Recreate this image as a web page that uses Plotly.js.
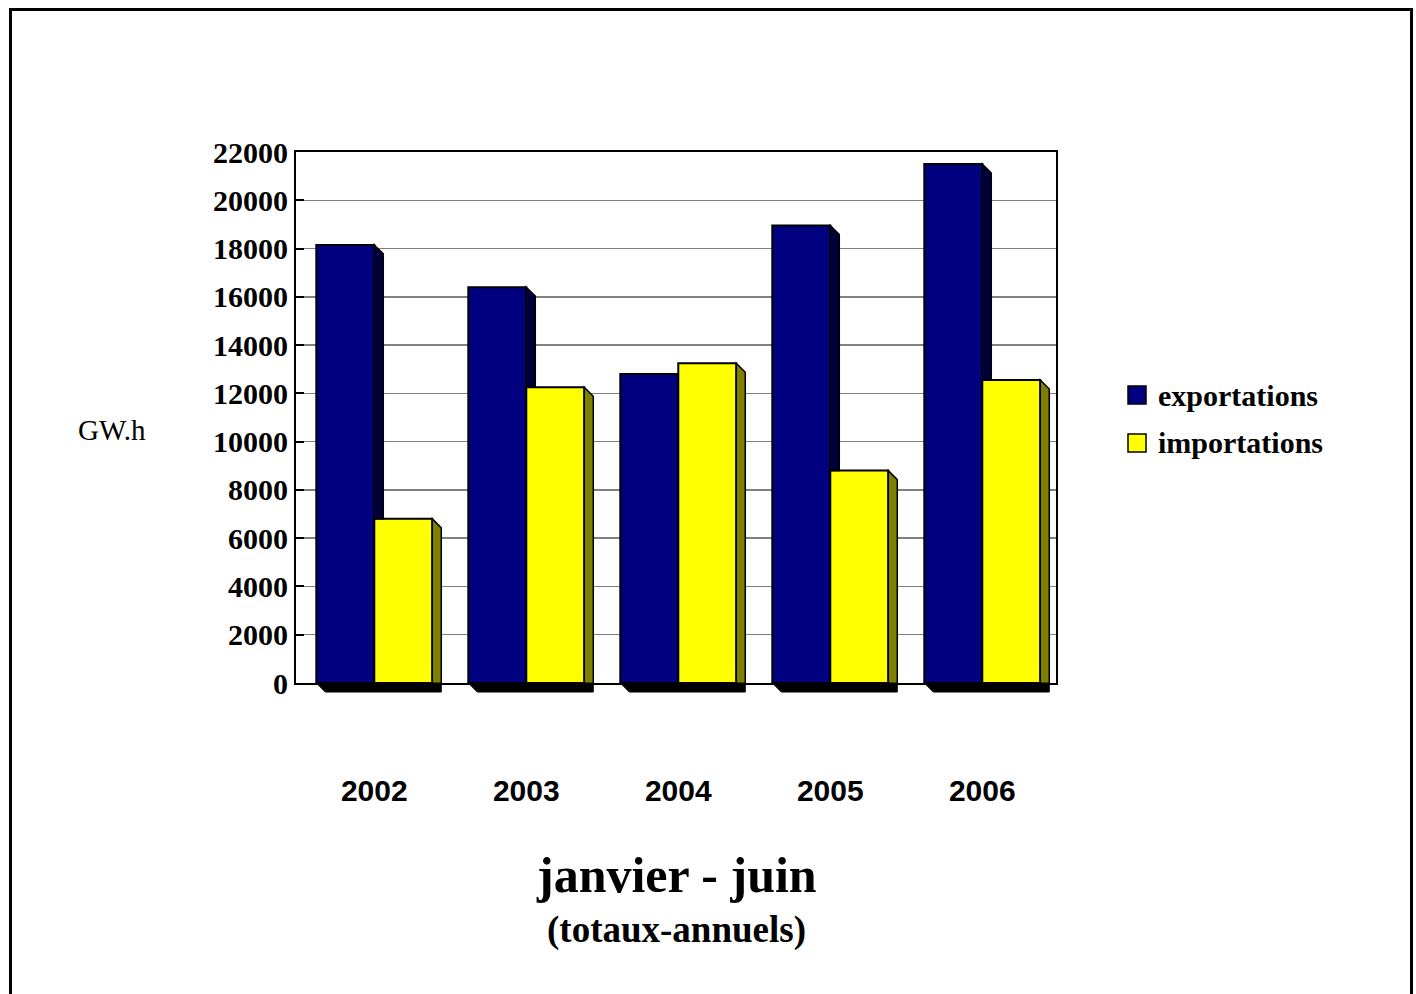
<!DOCTYPE html>
<html>
<head>
<meta charset="utf-8">
<script src="https://cdn.plot.ly/plotly-3.0.1.min.js"></script>
<style>
  html, body { margin: 0; padding: 0; width: 1416px; height: 994px; overflow: hidden; background: #fff; }
  #frame { position: absolute; left: 9px; top: 8px; width: 1404px; height: 1010px; border: 3px solid #000; box-sizing: border-box; pointer-events: none; z-index: 5; }
  #chart { position: absolute; left: 0; top: 0; width: 1416px; height: 994px; }
</style>
</head>
<body>
<div id="chart"></div>
<div id="frame"></div>
<script>
// ---- data ----
const categories = ['2002', '2003', '2004', '2005', '2006'];
const exportations = [18150, 16400, 12800, 18950, 21500];
const importations = [6800, 12250, 13250, 8800, 12550];
const yTickValues = [0, 2000, 4000, 6000, 8000, 10000, 12000, 14000, 16000, 18000, 20000, 22000];
const seriesNames = ['exportations', 'importations'];
const unitLabel = 'GW.h';
const titleMain = 'janvier - juin';
const titleSub = '(totaux-annuels)';

// ---- layout constants ----
const W = 1416, H = 994;
const M = { l: 296, r: 360, t: 152, b: 311 };
const plotW = W - M.l - M.r, plotH = H - M.t - M.b;
const xRange = [-0.515, 4.485];
const yRange = [0, 22000];
const bargap = 0.237;
const half = (1 - bargap) / 2;
const serif = 'Liberation Serif, Times New Roman, serif';
const sans = 'Liberation Sans, Arial, sans-serif';
const colExp = '#000080', colImp = '#ffff00';
const sideExp = '#00003c', sideImp = '#808000';

const xIdx = categories.map((c, i) => i);

// depth of the pseudo-3D effect (pixels -> data / paper units)
const dxPx = 9, dyPx = 9;
const dxD = dxPx * (xRange[1] - xRange[0]) / plotW;
const dyD = dyPx * (yRange[1] - yRange[0]) / plotH;
const xP = v => (v - xRange[0]) / (xRange[1] - xRange[0]);
const yP = v => (v - yRange[0]) / (yRange[1] - yRange[0]);
const dxP = dxPx / plotW, dyP = dyPx / plotH;

const traces = [
  { type: 'bar', name: seriesNames[0], x: xIdx, y: exportations,
    marker: { color: colExp, line: { color: '#000', width: 2 } }, showlegend: false, hoverinfo: 'x+y' },
  { type: 'bar', name: seriesNames[1], x: xIdx, y: importations,
    marker: { color: colImp, line: { color: '#000', width: 2 } }, showlegend: false, hoverinfo: 'x+y' }
];

const shapes = [];
xIdx.forEach((i, k) => {
  const e = exportations[k], m = importations[k];
  // exportations side face (only visible above the importations bar)
  if (e > m) {
    const R = i;
    let p;
    if (e - dyD >= m) {
      p = `M${R},${e} L${R + dxD},${e - dyD} L${R + dxD},${m} L${R},${m} Z`;
    } else {
      const f = (e - m) / dyD;
      p = `M${R},${e} L${R + dxD * f},${m} L${R},${m} Z`;
    }
    shapes.push({ type: 'path', xref: 'x', yref: 'y', layer: 'above', path: p,
      fillcolor: sideExp, line: { color: '#000', width: 1.5 } });
  }
  // importations side face
  const R2 = i + half;
  shapes.push({ type: 'path', xref: 'x', yref: 'y', layer: 'above',
    path: `M${R2},${m} L${R2 + dxD},${m - dyD} L${R2 + dxD},${-dyD} L${R2},0 Z`,
    fillcolor: sideImp, line: { color: '#000', width: 1.5 } });
  // bottom shadow (below the zero line)
  const L = i - half;
  shapes.push({ type: 'path', xref: 'paper', yref: 'paper', layer: 'above',
    path: `M${xP(L)},${yP(0)} L${xP(L) + dxP},${yP(0) - dyP} L${xP(R2) + dxP},${yP(0) - dyP} L${xP(R2) + dxP},${yP(0)} Z`,
    fillcolor: '#000', line: { color: '#000', width: 1 } });
});

// custom legend
const legendRows = [
  { name: seriesNames[0], color: colExp, ypx: 395 },
  { name: seriesNames[1], color: colImp, ypx: 443 }
];
const pxX = px => (px - M.l) / plotW;
const pxY = py => (H - M.b - py) / plotH;
const annotations = [];
legendRows.forEach(r => {
  shapes.push({ type: 'rect', xref: 'paper', yref: 'paper', layer: 'above',
    x0: pxX(1128), x1: pxX(1146), y0: pxY(r.ypx + 9), y1: pxY(r.ypx - 9),
    fillcolor: r.color, line: { color: '#000', width: 1.5 } });
  annotations.push({ xref: 'paper', yref: 'paper', x: pxX(1156), y: pxY(r.ypx), xanchor: 'left', yanchor: 'middle',
    text: r.name, showarrow: false, font: { family: serif, size: 30, color: '#000', weight: 'bold' } });
});
annotations.push({ xref: 'paper', yref: 'paper', x: pxX(112), y: pxY(430), xanchor: 'center', yanchor: 'middle',
  text: unitLabel, showarrow: false, font: { family: serif, size: 29, color: '#000' } });
annotations.push({ xref: 'paper', yref: 'paper', x: 0.5, y: pxY(875), xanchor: 'center', yanchor: 'middle',
  text: titleMain, showarrow: false, font: { family: serif, size: 50, color: '#000', weight: 'bold' } });
annotations.push({ xref: 'paper', yref: 'paper', x: 0.5, y: pxY(930), xanchor: 'center', yanchor: 'middle',
  text: titleSub, showarrow: false, font: { family: serif, size: 37, color: '#000', weight: 'bold' } });

const layout = {
  width: W, height: H,
  margin: M,
  paper_bgcolor: '#fff', plot_bgcolor: '#fff',
  barmode: 'group', bargap: bargap, bargroupgap: 0,
  showlegend: false,
  xaxis: {
    type: 'linear', range: xRange, tickvals: xIdx, ticktext: categories,
    showgrid: false, zeroline: false, showline: true, linecolor: '#000', linewidth: 2, mirror: true,
    ticks: '', ticklabelstandoff: 80,
    tickfont: { family: sans, size: 30, color: '#000', weight: 'bold' }
  },
  yaxis: {
    range: yRange, tickvals: yTickValues, ticktext: yTickValues.map(String),
    showgrid: true, gridcolor: '#808080', gridwidth: 1.5,
    zeroline: false, showline: true, linecolor: '#000', linewidth: 2, mirror: true,
    ticks: 'inside', ticklen: 8, tickwidth: 2, tickcolor: '#000',
    tickfont: { family: serif, size: 30, color: '#000', weight: 'bold' }
  },
  shapes: shapes,
  annotations: annotations
};

Plotly.newPlot('chart', traces, layout, { displayModeBar: false, staticPlot: true });
</script>
</body>
</html>
